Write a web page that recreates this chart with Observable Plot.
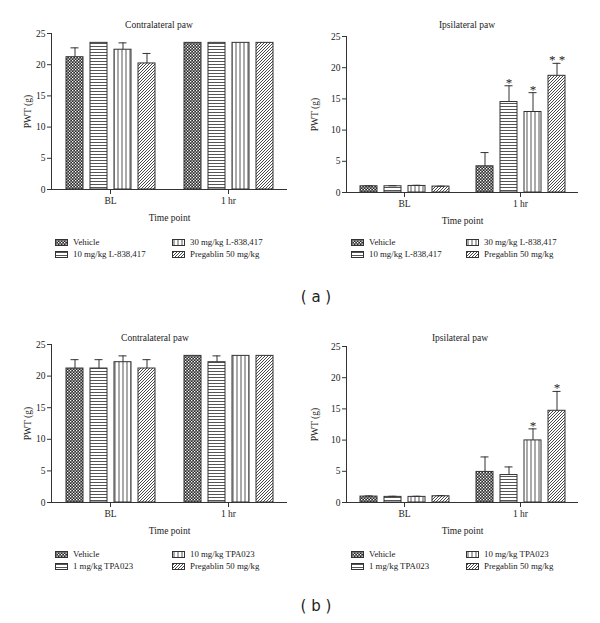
<!DOCTYPE html>
<html>
<head>
<meta charset="utf-8">
<script src="https://cdn.jsdelivr.net/npm/d3@7"></script>
<script src="https://cdn.jsdelivr.net/npm/@observablehq/plot@0.6"></script>
<style>
  html, body { margin: 0; padding: 0; background: #fff; }
  #root { position: relative; width: 600px; height: 623px; overflow: hidden; font-family: "Liberation Serif", "DejaVu Serif", serif; color: #222; }
  .panel { position: absolute; width: 300px; }
  .title { position: absolute; font-size: 9.5px; white-space: nowrap; transform: translate(-50%, -50%); }
  .legend { position: absolute; font-size: 8.8px; white-space: nowrap; }
  .leg-item { position: absolute; display: flex; align-items: center; transform: translateY(-50%); }
  .leg-item svg { margin-right: 5px; }
  .tag { position: absolute; font-family: "DejaVu Sans", sans-serif; font-size: 15px; transform: translate(-50%, -50%); white-space: pre; }
</style>
</head>
<body>
<svg width="0" height="0" style="position:absolute">
  <defs>
    <pattern id="pat0" width="3" height="3" patternUnits="userSpaceOnUse">
      <rect width="3" height="3" fill="#2a2a2a"></rect>
      <rect x="0" y="0" width="1.3" height="1.3" fill="#fff"></rect>
      <rect x="1.5" y="1.5" width="1.3" height="1.3" fill="#fff"></rect>
    </pattern>
    <pattern id="pat1" width="4" height="3" patternUnits="userSpaceOnUse">
      <rect width="4" height="3" fill="#fff"></rect>
      <line x1="0" y1="1.5" x2="4" y2="1.5" stroke="#555" stroke-width="1"></line>
    </pattern>
    <pattern id="pat2" width="4" height="4" patternUnits="userSpaceOnUse">
      <rect width="4" height="4" fill="#fff"></rect>
      <line x1="2" y1="0" x2="2" y2="4" stroke="#555" stroke-width="1"></line>
    </pattern>
    <pattern id="pat3" width="3" height="3" patternUnits="userSpaceOnUse">
      <rect width="3" height="3" fill="#fff"></rect>
      <path d="M-1,1 L1,-1 M0,3 L3,0 M2,4 L4,2" stroke="#333" stroke-width="0.9"></path>
    </pattern>
  </defs>
</svg>
<div id="root"></div>
<script>
// ---------- data ----------
const timepoints = ["BL", "1 hr"];
const groupsA = ["Vehicle", "10 mg/kg L-838,417", "30 mg/kg L-838,417", "Pregablin 50 mg/kg"];
const groupsB = ["Vehicle", "1 mg/kg TPA023", "10 mg/kg TPA023", "Pregablin 50 mg/kg"];
const yTicks = [0, 5, 10, 15, 20, 25];
const titles = ["Contralateral paw", "Ipsilateral paw"];
const tags = ["( a )", "( b )"];

// values ordered: BL x 4 groups, then 1 hr x 4 groups
const aContraMean = [21.2, 23.5, 22.4, 20.2, 23.5, 23.5, 23.5, 23.5];
const aContraSem  = [1.5, 0, 1.1, 1.6, 0, 0, 0, 0];
const aIpsiMean   = [1.0, 1.0, 1.05, 0.95, 4.2, 14.5, 12.9, 18.7];
const aIpsiSem    = [0.05, 0.08, 0.1, 0.05, 2.2, 2.6, 3.1, 2.0];
const aIpsiSig    = ["", "", "", "", "", "*", "*", "* *"];
const bContraMean = [21.2, 21.2, 22.2, 21.2, 23.2, 22.2, 23.2, 23.2];
const bContraSem  = [1.4, 1.4, 1.0, 1.4, 0, 1.0, 0, 0];
const bIpsiMean   = [0.95, 0.9, 0.9, 1.0, 4.9, 4.4, 9.95, 14.7];
const bIpsiSem    = [0.1, 0.1, 0.1, 0.1, 2.4, 1.3, 1.85, 3.1];
const bIpsiSig    = ["", "", "", "", "", "", "*", "*"];

const root = document.getElementById("root");

function rows(groups, mean, sem, sig) {
  return timepoints.flatMap((t, ti) => groups.map((g, gi) => {
    const i = ti * groups.length + gi;
    return {time: t, group: g, gi, mean: mean[i], sem: sem[i], sig: sig ? sig[i] : ""};
  }));
}

function chart(cfg) {
  const data = rows(cfg.groups, cfg.mean, cfg.sem, cfg.sig);
  const errs = data.filter(d => d.sem > 0);
  const sigs = data.filter(d => d.sig);
  const ink = "#333";
  return Plot.plot({
    width: 300,
    height: 225,
    marginLeft: cfg.ml, marginRight: cfg.mr, marginTop: cfg.mt, marginBottom: cfg.mb,
    style: {fontFamily: "Liberation Serif, DejaVu Serif, serif", fontSize: "9.5px", color: "#222", background: "transparent", overflow: "visible"},
    fx: {domain: timepoints, paddingInner: 0, paddingOuter: 0, label: "Time point"},
    x: {domain: cfg.groups, paddingInner: 0.3, paddingOuter: 0.52, axis: null},
    y: {domain: [0, 25]},
    color: {type: "identity"},
    marks: [
      Plot.barY(data, {fx: "time", x: "group", y: "mean", fill: d => `url(#pat${d.gi})`, stroke: ink, strokeWidth: 1}),
      Plot.ruleX(errs, {fx: "time", x: "group", y1: "mean", y2: d => d.mean + d.sem, stroke: ink, strokeWidth: 1}),
      Plot.tickY(errs, {fx: "time", x: "group", y: d => d.mean + d.sem, insetLeft: 4.5, insetRight: 4.5, stroke: ink, strokeWidth: 1}),
      Plot.text(sigs, {fx: "time", x: "group", y: d => d.mean + d.sem, text: "sig", lineAnchor: "bottom", dy: 1, fontSize: 13, fill: "#222"}),
      Plot.ruleY([0], {stroke: ink, strokeWidth: 1}),
      Plot.frame({anchor: "left", facetAnchor: "left", stroke: ink, strokeWidth: 1}),
      Plot.axisY({ticks: yTicks, tickFormat: d => d, tickSize: 4, tickPadding: 2, stroke: ink,
        label: "PWT (g)", labelAnchor: "center", labelOffset: cfg.lo, labelArrow: "none"}),
      Plot.axisFx({anchor: "bottom", tickSize: 5, tickPadding: 3, stroke: ink, label: "Time point", labelAnchor: "center", labelOffset: 31, labelArrow: "none"})
    ]
  });
}

const panels = [
  {left: 0,   top: 0,   ml: 51, mr: 13, mt: 33, mb: 36, lo: 27, groups: groupsA, mean: aContraMean, sem: aContraSem, sig: null, title: titles[0], tx: 159, ty: 25},
  {left: 300, top: 0,   ml: 45, mr: 22, mt: 36, mb: 33, lo: 35, groups: groupsA, mean: aIpsiMean, sem: aIpsiSem, sig: aIpsiSig, title: titles[1], tx: 167, ty: 25},
  {left: 0,   top: 310, ml: 50, mr: 13, mt: 34, mb: 33, lo: 27, groups: groupsB, mean: bContraMean, sem: bContraSem, sig: null, title: titles[0], tx: 155, ty: 28},
  {left: 300, top: 310, ml: 45, mr: 22, mt: 36, mb: 33, lo: 35, groups: groupsB, mean: bIpsiMean, sem: bIpsiSem, sig: bIpsiSig, title: titles[1], tx: 160, ty: 28}
];

for (const p of panels) {
  const div = document.createElement("div");
  div.className = "panel";
  div.style.left = p.left + "px";
  div.style.top = p.top + "px";
  div.appendChild(chart(p));
  const t = document.createElement("div");
  t.className = "title";
  t.textContent = p.title;
  t.style.left = p.tx + "px";
  t.style.top = p.ty + "px";
  div.appendChild(t);
  root.appendChild(div);
}

function legend(groups, left, top, colX) {
  const lg = document.createElement("div");
  lg.className = "legend";
  lg.style.left = left + "px";
  lg.style.top = top + "px";
  for (let gi = 0; gi < groups.length; gi++) {
    const col = gi < 2 ? 0 : 1;
    const row = gi % 2;
    const item = document.createElement("div");
    item.className = "leg-item";
    item.style.left = colX[col] + "px";
    item.style.top = (row * 12) + "px";
    item.innerHTML = `<svg width="13" height="7"><rect x="0.5" y="0.5" width="12" height="6" fill="url(#pat${gi})" stroke="#333" stroke-width="1"></rect></svg><span>${groups[gi]}</span>`;
    lg.appendChild(item);
  }
  root.appendChild(lg);
}
legend(groupsA, 55, 242, [0, 117]);
legend(groupsA, 351, 242, [0, 115]);
legend(groupsB, 55, 554, [0, 117]);
legend(groupsB, 351, 554, [0, 115]);

for (const [i, y] of [[0, 297], [1, 606]]) {
  const t = document.createElement("div");
  t.className = "tag";
  t.textContent = tags[i];
  t.style.left = "316px";
  t.style.top = y + "px";
  root.appendChild(t);
}
</script>
</body>
</html>
